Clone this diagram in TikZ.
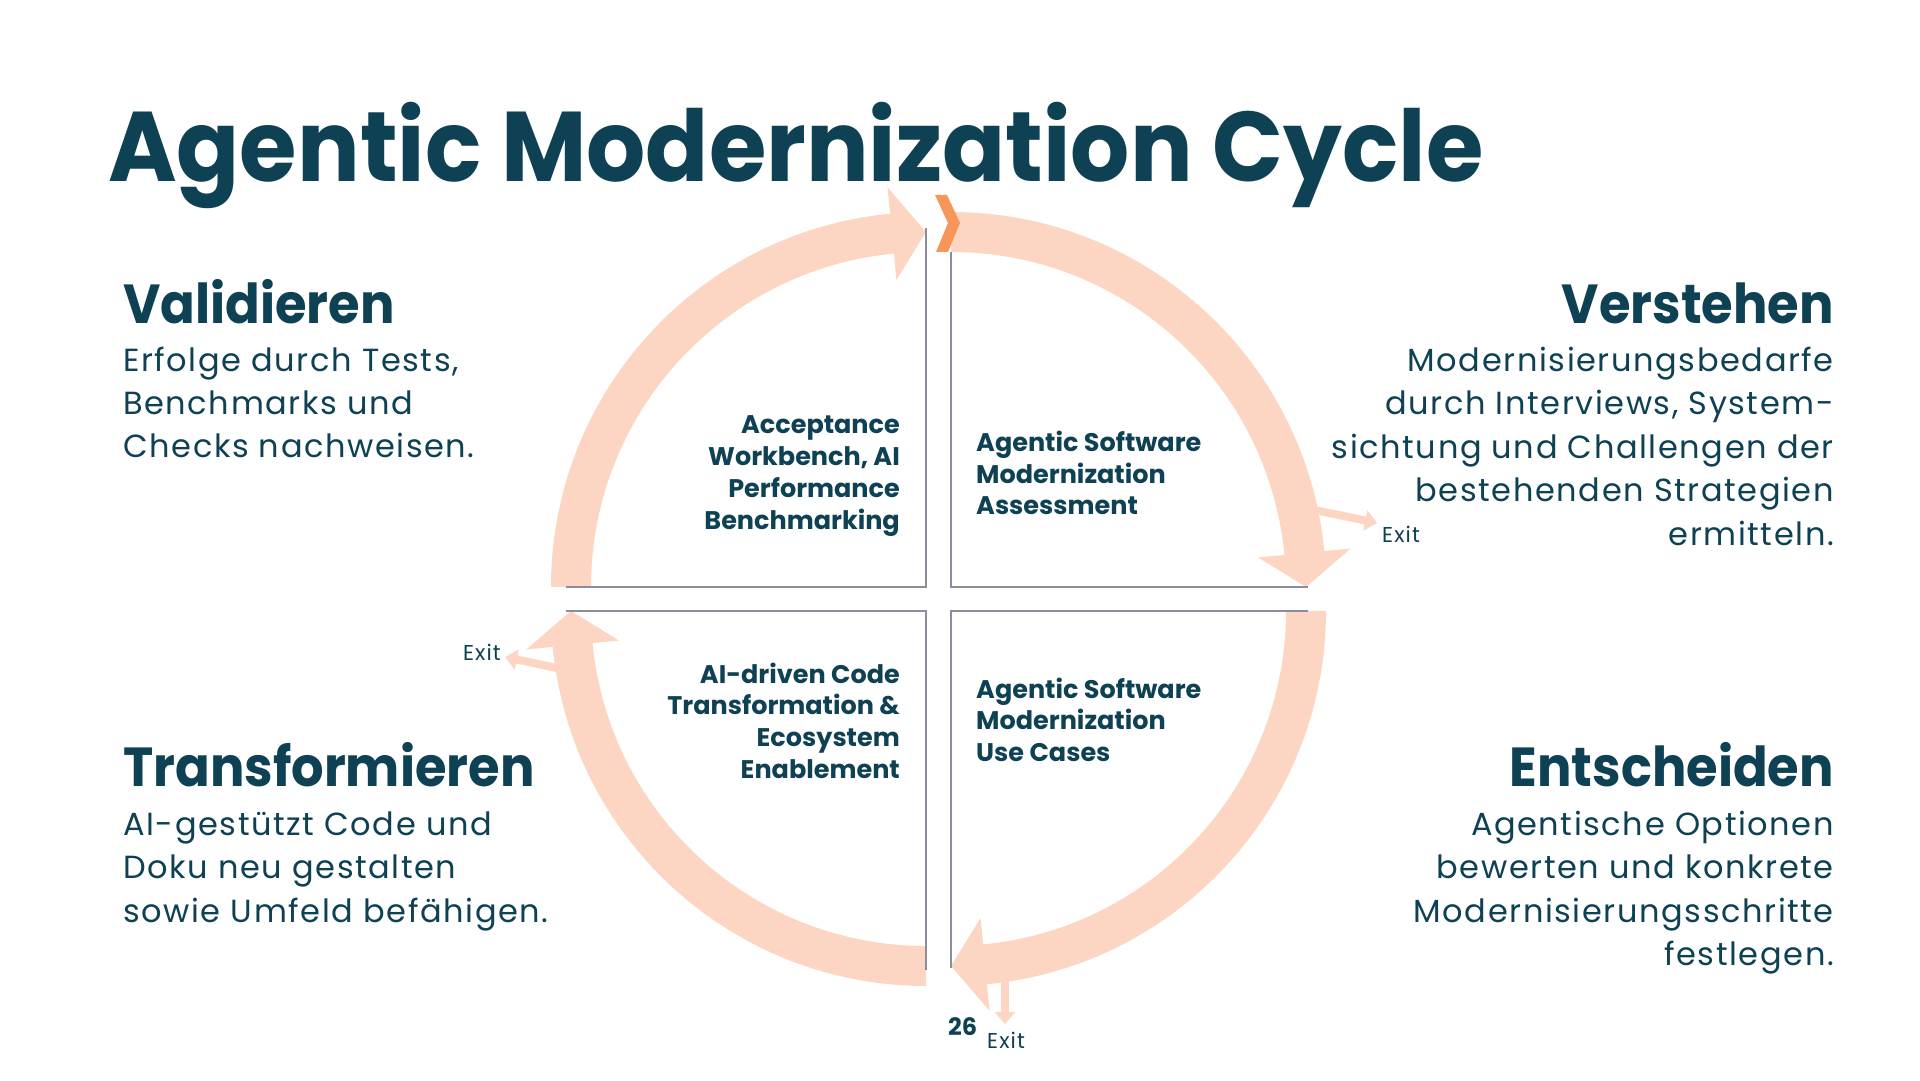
\documentclass[tikz,border=0pt]{standalone}
\usepackage{fontspec}
\setmainfont{Poppins}
\newfontfamily\titlefont[FakeStretch=0.94]{Poppins}
\newfontfamily\headfont[FakeStretch=0.93]{Poppins}
\newfontfamily\bodyfont[LetterSpace=5]{Poppins}
\usetikzlibrary{calc,arrows.meta}
\definecolor{ink}{HTML}{0E4154}
\definecolor{peach}{HTML}{FCD6C2}
\definecolor{chev}{HTML}{F8965A}
\definecolor{qline}{HTML}{8A8D9B}
\newcommand{\cyclearrow}[3]{%
  \fill[peach] ($(#1)+(#2:335)$) arc[start angle=#2, end angle=#3, radius=335]
    -- ($(#1)+(#3:308.5)$) -- ($(#1)+({#3-5.5}:355)$) -- ($(#1)+(#3:401.5)$)
    -- ($(#1)+(#3:375)$) arc[start angle=#3, end angle=#2, radius=375] -- cycle;}
\tikzset{
  txt/.style={inner sep=0pt, text=ink},
  titletxt/.style={txt, font=\titlefont\fontsize{99}{110}\selectfont\bfseries},
  headtxt/.style={txt, font=\headfont\fontsize{55}{60}\selectfont\bfseries},
  bodytxt/.style={txt, font=\bodyfont\fontsize{32}{40}\selectfont},
  quadtxt/.style={txt, font=\fontsize{25.5}{30}\selectfont\bfseries},
  exittxt/.style={txt, font=\bodyfont\fontsize{21.5}{24}\selectfont},
  pagetxt/.style={txt, font=\fontsize{24}{28}\selectfont\bfseries},
  qframe/.style={draw=qline, line width=1.8pt},
  exitarrow/.style={draw=peach, line width=8pt, -{Triangle[width=20pt,length=12pt]}},
}
\begin{document}
\begin{tikzpicture}[x=1pt, y=1pt]
\useasboundingbox (0,0) rectangle (1920,1080);
\fill[white] (0,0) rectangle (1920,1080);

% quadrant corners
\coordinate (tl) at (926,493);
\coordinate (tr) at (951,493);
\coordinate (br) at (951,469);
\coordinate (bl) at (926,469);

% cycle arrows
\cyclearrow{tl}{180}{95.5}
\cyclearrow{tr}{90}{5.5}
\cyclearrow{br}{0}{-84.5}
\cyclearrow{bl}{-90}{-174.5}

% quadrant frames
\draw[qframe] (566,493) -- (tl) -- (926,852);
\draw[qframe] (951,828) -- (tr) -- (1308,493);
\draw[qframe] (951,112) -- (br) -- (1308,469);
\draw[qframe] (566,469) -- (bl) -- (926,110);

% orange chevron
\fill[chev] (935,885) -- (947,885) -- (960,857) -- (948,828) -- (936,828) -- (948,857) -- cycle;

% exit arrows
\coordinate (ex1s) at (1300,573);
\coordinate (ex1e) at (1377,557);
\coordinate (ex2s) at (566,410);
\coordinate (ex2e) at (505,423);
\coordinate (ex3s) at (1005,110);
\coordinate (ex3e) at (1005,56);
\draw[exitarrow] (ex1s) -- (ex1e);
\draw[exitarrow] (ex2s) -- (ex2e);
\draw[exitarrow] (ex3s) -- (ex3e);
\node[exittxt, anchor=base west] (exit1) at (1382,537) {Exit};
\node[exittxt, anchor=base east] (exit2) at (501,419) {Exit};
\node[exittxt, anchor=base west] (exit3) at (987,32) {Exit};
\node[pagetxt, anchor=base west] (page) at (948,45) {26};

% title
\node[titletxt, anchor=base west] (title) at (108,898) {Agentic Modernization Cycle};

% Validieren
\node[headtxt, anchor=base west] (hval) at (123,756.5) {Validieren};
\node[bodytxt, anchor=base west] (val1) at (123,708) {Erfolge durch Tests,};
\node[bodytxt, anchor=base west] (val2) at (123,665) {Benchmarks und};
\node[bodytxt, anchor=base west] (val3) at (123,622) {Checks nachweisen.};

% Verstehen
\node[headtxt, anchor=base east] (hver) at (1834,756.5) {Verstehen};
\node[bodytxt, anchor=base east] (ver1) at (1834,708) {Modernisierungsbedarfe};
\node[bodytxt, anchor=base east] (ver2) at (1834,665) {durch Interviews, System-};
\node[bodytxt, anchor=base east] (ver3) at (1834,621.5) {sichtung und Challengen der};
\node[bodytxt, anchor=base east] (ver4) at (1834,578) {bestehenden Strategien};
\node[bodytxt, anchor=base east] (ver5) at (1834,534.5) {ermitteln.};

% Transformieren
\node[headtxt, anchor=base west] (htra) at (123,293) {Transformieren};
\node[bodytxt, anchor=base west] (tra1) at (123,244.5) {AI-gestützt Code und};
\node[bodytxt, anchor=base west] (tra2) at (123,201.2) {Doku neu gestalten};
\node[bodytxt, anchor=base west] (tra3) at (123,157.9) {sowie Umfeld befähigen.};

% Entscheiden
\node[headtxt, anchor=base east] (hent) at (1834,293) {Entscheiden};
\node[bodytxt, anchor=base east] (ent1) at (1834,244.5) {Agentische Optionen};
\node[bodytxt, anchor=base east] (ent2) at (1834,201.2) {bewerten und konkrete};
\node[bodytxt, anchor=base east] (ent3) at (1834,157.9) {Modernisierungsschritte};
\node[bodytxt, anchor=base east] (ent4) at (1834,114.6) {festlegen.};

% quadrant labels
\node[quadtxt, anchor=base east] (qa1) at (900,646) {Acceptance};
\node[quadtxt, anchor=base east] (qa2) at (900,614) {Workbench, AI};
\node[quadtxt, anchor=base east] (qa3) at (900,582) {Performance};
\node[quadtxt, anchor=base east] (qa4) at (900,550) {Benchmarking};

\node[quadtxt, anchor=base west] (qb1) at (976,628.3) {Agentic Software};
\node[quadtxt, anchor=base west] (qb2) at (976,596.7) {Modernization};
\node[quadtxt, anchor=base west] (qb3) at (976,565) {Assessment};

\node[quadtxt, anchor=base east] (qc1) at (900,396.7) {AI-driven Code};
\node[quadtxt, anchor=base east] (qc2) at (900,365) {Transformation \&};
\node[quadtxt, anchor=base east] (qc3) at (900,333.3) {Ecosystem};
\node[quadtxt, anchor=base east] (qc4) at (900,301.7) {Enablement};

\node[quadtxt, anchor=base west] (qd1) at (976,381.7) {Agentic Software};
\node[quadtxt, anchor=base west] (qd2) at (976,350) {Modernization};
\node[quadtxt, anchor=base west] (qd3) at (976,318.3) {Use Cases};
\end{tikzpicture}
\end{document}
